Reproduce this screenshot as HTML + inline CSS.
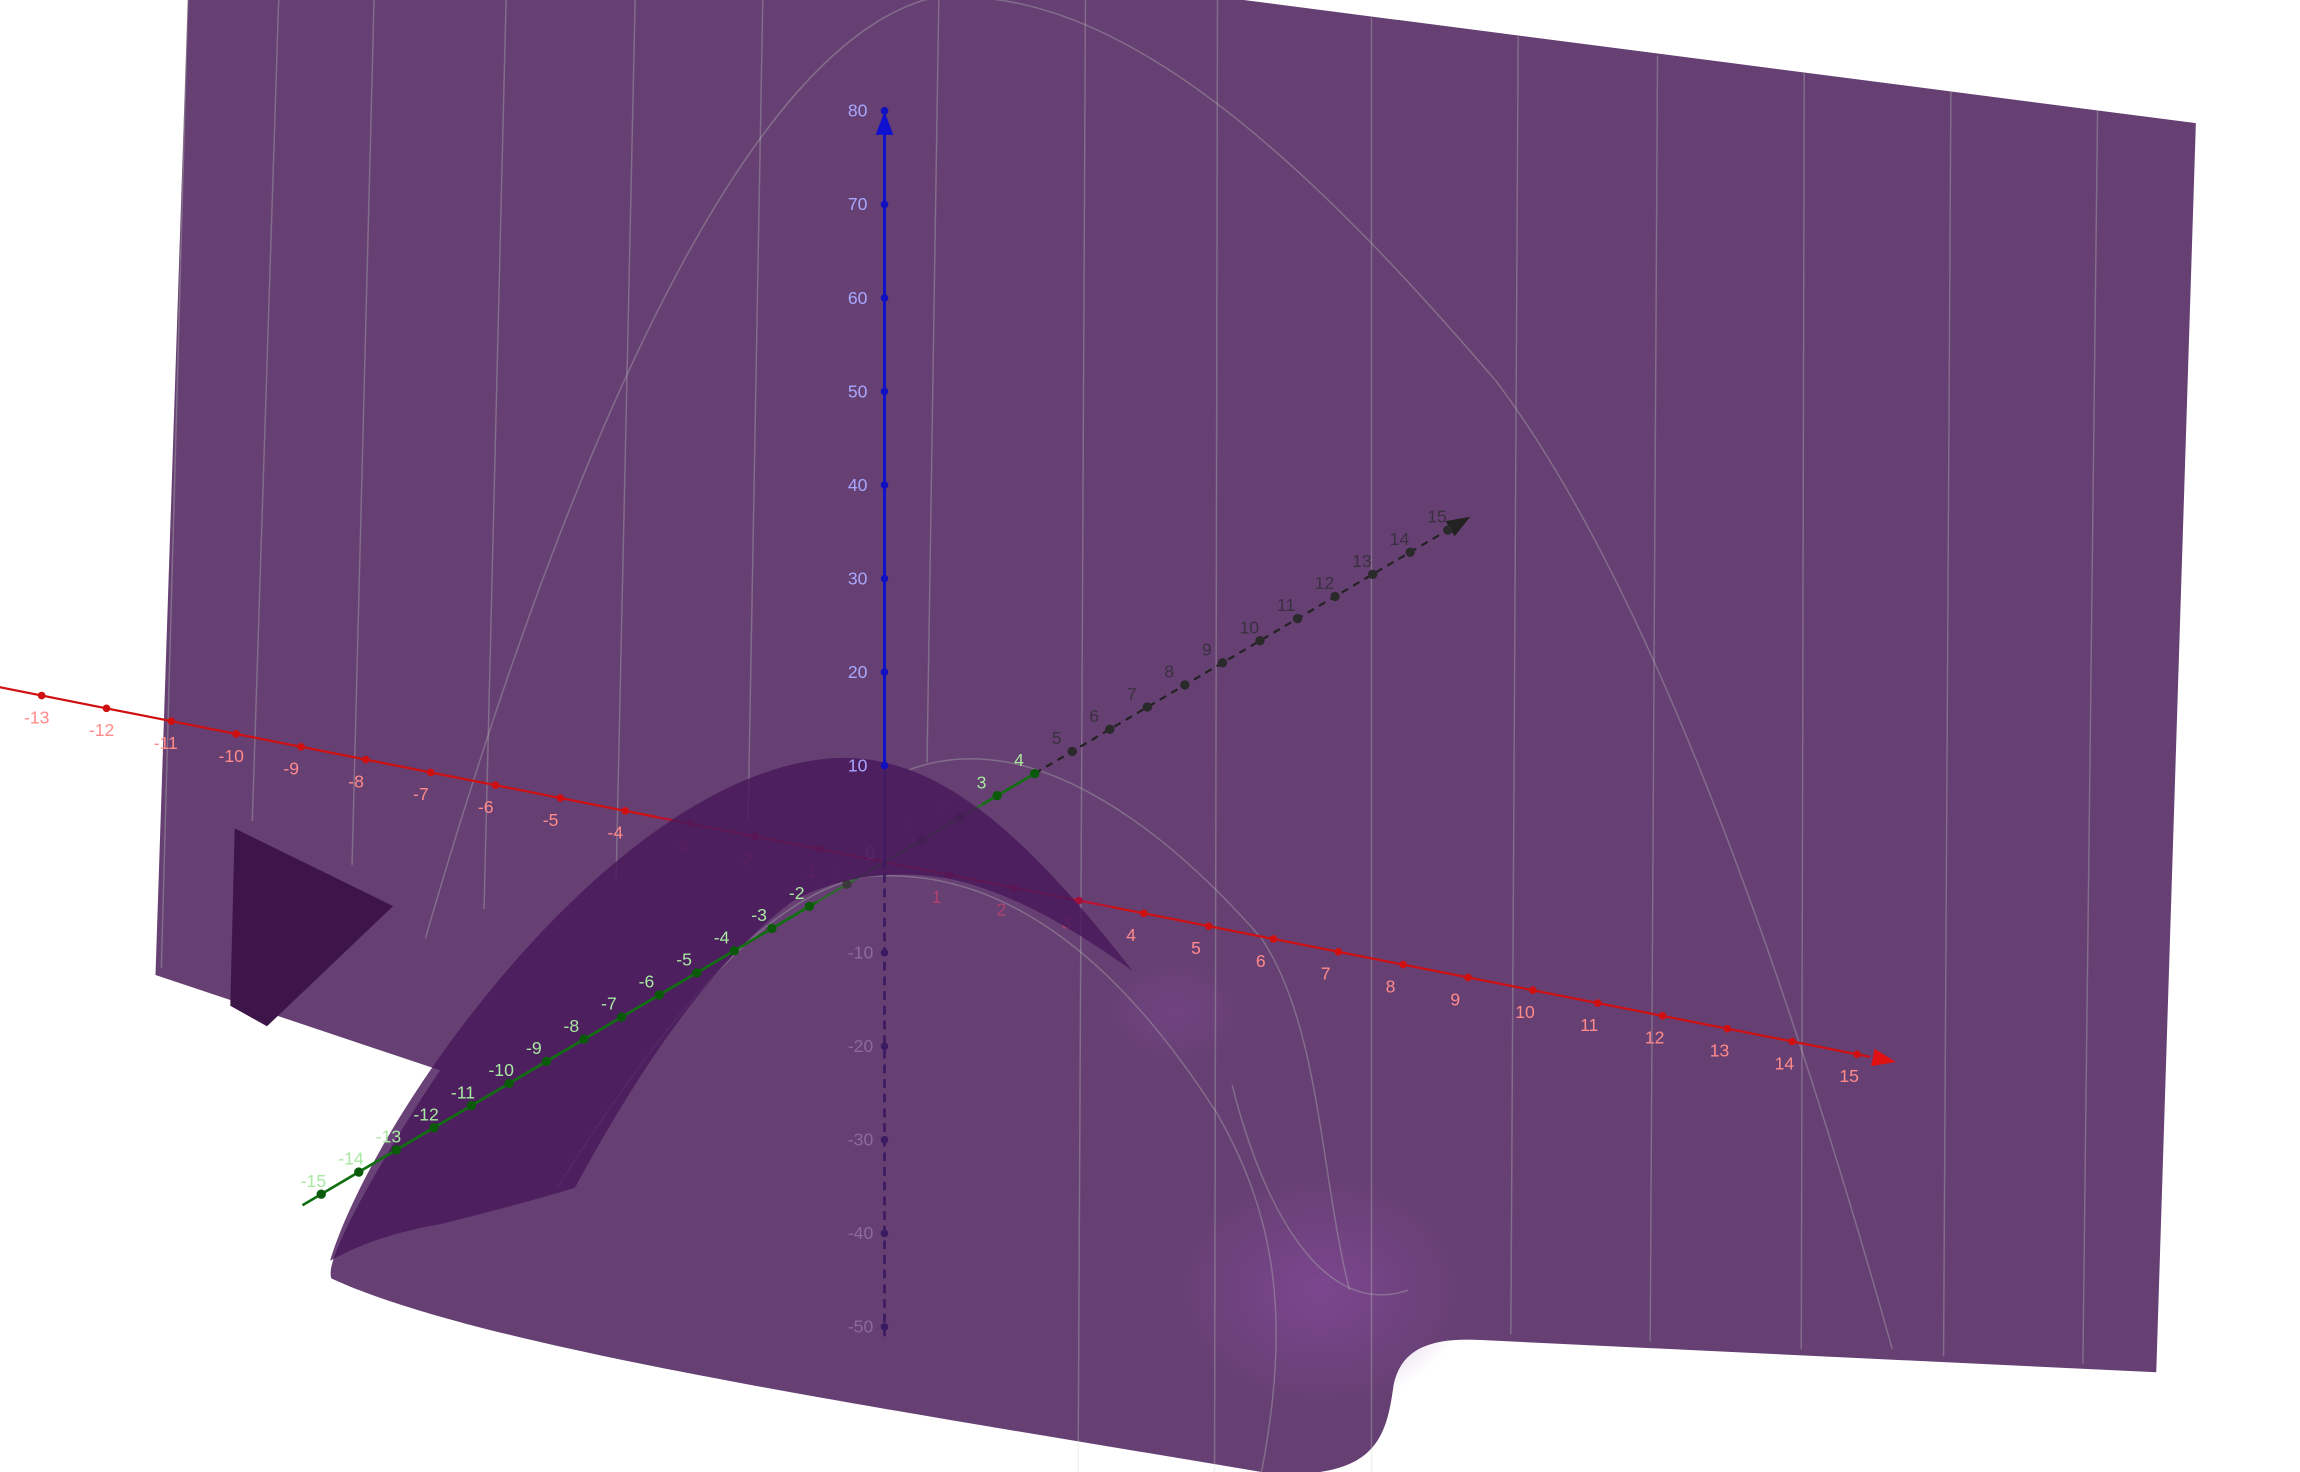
<!DOCTYPE html>
<html><head><meta charset="utf-8"><style>
html,body{margin:0;padding:0;background:#fff;}
svg{display:block;}
text{font-family:"Liberation Sans",sans-serif;font-size:12px;}
</style></head><body>
<svg id="chart" width="2300" height="1472" viewBox="0 0 1568 1004" preserveAspectRatio="none" xmlns="http://www.w3.org/2000/svg">
<defs>
<radialGradient id="glow" cx="0.5" cy="0.5" r="0.5">
<stop offset="0" stop-color="#8a4aa0" stop-opacity="0.6"/><stop offset="1" stop-color="#8a4aa0" stop-opacity="0"/>
</radialGradient>
</defs>
<g id="surface">
<path fill="#664073" d="M128,0 L848,0 L1497,84 L1470,936 L1010,914 C975,912 955,920 950,945 C946,975 940,998 900,1004 L860,1004 C600,960 330,920 226,872 C220,860 260,790 300,730 L106,665 Z"/>
<ellipse cx="900" cy="880" rx="100" ry="80" fill="url(#glow)"/>
<ellipse cx="800" cy="690" rx="50" ry="35" fill="url(#glow)" opacity="0.5"/>
<g stroke="#c8d8c0" stroke-opacity="0.3" stroke-width="1" fill="none">
<path d="M128,0 L110,660"/><path d="M190,0 L172,560"/><path d="M255,0 L240,590"/><path d="M345,0 L330,620"/>
<path d="M433,0 L420,600"/><path d="M520,0 L510,560"/><path d="M640,0 L632,520"/><path d="M740,0 L735,1004"/>
<path d="M830,0 L828,1004"/><path d="M935,12 L935,1004"/><path d="M1035,25 L1030,910"/><path d="M1130,38 L1125,915"/>
<path d="M1230,50 L1228,920"/><path d="M1330,62 L1325,925"/><path d="M1430,75 L1420,930"/>
<path d="M290,640 C380,330 500,40 630,0 C760,-20 900,120 1020,260 C1110,380 1200,600 1290,920"/>
<path d="M380,810 C450,700 520,610 590,598 C680,590 760,650 830,760 C870,830 880,900 860,1004"/>
<path d="M620,525 C700,495 790,560 860,640 C900,700 900,800 920,880"/>
<path d="M840,740 C860,820 900,900 960,880"/>
</g>
<path fill="#3e1548" d="M160,565 L268,618 L182,700 L157,686 Z"/>
</g>
<g id="axesUnder"></g>
<path fill="#48185a" fill-opacity="0.82" d="M225,860 C255,760 420,525 570,517 C640,514 700,570 772,662 C740,640 700,612 650,600 C610,592 570,598 540,615 C480,660 430,740 392,810 C360,820 320,830 300,835 C260,842 240,852 225,860 Z"/>
<g id="axesOver"></g>
</svg>
<script>
const xTicks=[-13,-12,-11,-10,-9,-8,-7,-6,-5,-4,-3,-2,-1,1,2,3,4,5,6,7,8,9,10,11,12,13,14,15];
const yTicks=[-15,-14,-13,-12,-11,-10,-9,-8,-7,-6,-5,-4,-3,-2,-1,1,2,3,4,5,6,7,8,9,10,11,12,13,14,15];
const zTicks=[-50,-40,-30,-20,-10,10,20,30,40,50,60,70,80];
const O=[603,588],UX=[44.2,8.74],UY=[25.6,-15.1],UZ=6.38,Z0=586;
function px(x){return [O[0]+x*UX[0],O[1]+x*UX[1]];}
function py(y){return [O[0]+y*UY[0],O[1]+y*UY[1]];}
function pz(z){return [603,Z0-z*UZ];}
const NS="http://www.w3.org/2000/svg";
const under=document.getElementById('axesUnder'),over=document.getElementById('axesOver');
function line(g,a,b,col,w,dash,name){const l=document.createElementNS(NS,'line');l.setAttribute('x1',a[0]);l.setAttribute('y1',a[1]);l.setAttribute('x2',b[0]);l.setAttribute('y2',b[1]);l.setAttribute('stroke',col);l.setAttribute('stroke-width',w);if(dash)l.setAttribute('stroke-dasharray',dash);


g.appendChild(l);}
function dot(g,p,col,r,name){const c=document.createElementNS(NS,'circle');c.setAttribute('cx',p[0]);c.setAttribute('cy',p[1]);c.setAttribute('r',r);c.setAttribute('fill',col);


g.appendChild(c);}
function label(g,p,txt,col,name){const t=document.createElementNS(NS,'text');t.setAttribute('x',p[0]);t.setAttribute('y',p[1]);t.setAttribute('fill',col);t.textContent=txt;


g.appendChild(t);}
function arrow(g,tip,dir,col,name){const n=Math.hypot(dir[0],dir[1]),ux=dir[0]/n,uy=dir[1]/n,L=16,W=6;
const p=document.createElementNS(NS,'path');p.setAttribute('d',`M${tip[0]},${tip[1]} L${tip[0]-ux*L-uy*W},${tip[1]-uy*L+ux*W} L${tip[0]-ux*L+uy*W},${tip[1]-uy*L-ux*W} Z`);p.setAttribute('fill',col);


g.appendChild(p);}
line(under,px(-3.5),px(3.5),'#c01030',1.5,null,'x-axis-hidden');
line(over,px(-13.65),px(-3.5),'#d01010',1.5,null,'x-axis');
line(over,px(3.5),px(15.2),'#d01010',1.5,null,'x-axis');
arrow(over,px(15.6),UX,'#e01010','x-axis-arrow');
xTicks.forEach(v=>{const p=px(v);const hid=Math.abs(v)<3.5;const g=hid?under:over;
dot(g,p,hid?'#a0103a':'#d01010',2.6,'x-tick');
label(g,[p[0]-12,p[1]+19],String(v),hid?'#b04070':'#ff8a8a','x-tick-label');});
line(under,py(-1.8),py(2.6),'#2a6a2a',1.5,null,'y-axis-hidden');
line(over,py(-15.5),py(-1.8),'#107010',1.8,null,'y-axis');
line(over,py(2.6),py(4),'#107010',1.8,null,'y-axis');
line(over,py(4),py(15.2),'#222',1.5,'5,4','y-axis-back');
arrow(over,py(15.6),UY,'#222','y-axis-arrow');
yTicks.forEach(v=>{const p=py(v);const hid=v>-1.8&&v<2.6;const g=hid?under:over;const back=v>4;
dot(g,p,back?'#2a2a2a':(hid?'#3a3a3a':'#0a5a0a'),3.2,'y-tick');
label(g,[p[0]-14,p[1]-5],String(v),back?'#3a3040':(hid?'#705070':'#a8e8a0'),'y-tick-label');});
line(over,pz(10),pz(79),'#1010d0',2,null,'z-axis');
line(under,pz(0),pz(10),'#2020a0',1.5,null,'z-axis-hidden');
line(over,pz(0),pz(-51),'#3a1a60',1.8,'6,4','z-axis-negative');
arrow(over,[603,76],[0,-1],'#1010d0','z-axis-arrow');
zTicks.forEach(v=>{const p=pz(v);dot(over,p,v>0?'#1010c0':'#3a1a60',2.6,'z-tick');
label(over,[p[0]-25,p[1]+4],String(v),v>0?'#a8a8ff':'#8a6aa0','z-tick-label');});
label(under,[590,586],'0','#9a6aa0','origin-label');
</script>
</body></html>
